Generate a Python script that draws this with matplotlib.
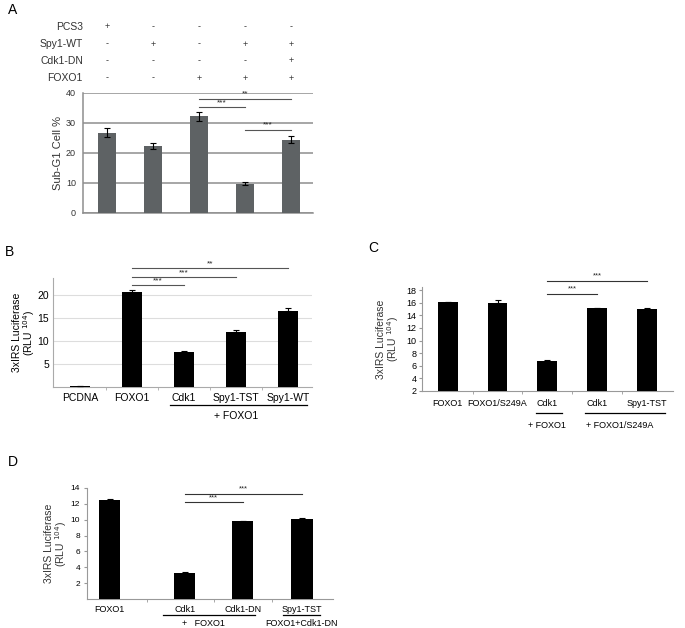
import numpy as np
import matplotlib
matplotlib.use("Agg")
import matplotlib.pyplot as plt
from matplotlib.transforms import blended_transform_factory

plt.rcParams['font.family'] = ['Liberation Sans', 'DejaVu Sans']

# ---- data
a_rows = ["PCS3", "Spy1-WT", "Cdk1-DN", "FOXO1"]
a_table = {
    "PCS3":    ["+", "-", "-", "-", "-"],
    "Spy1-WT": ["-", "+", "-", "+", "+"],
    "Cdk1-DN": ["-", "-", "-", "-", "+"],
    "FOXO1":   ["-", "-", "+", "+", "+"],
}
a_vals = [26.8, 22.5, 32.2, 9.7, 24.5]
a_err = [1.4, 1.0, 1.5, 0.5, 1.3]
a_sig = [(2, 4, 38.0, "**"), (2, 3, 35.3, "***"), (3, 4, 27.8, "***")]

b_labels = ["PCDNA", "FOXO1", "Cdk1", "Spy1-TST", "Spy1-WT"]
b_vals = [0.15, 20.5, 7.5, 12.0, 16.5]
b_err = [0.0, 0.5, 0.2, 0.3, 0.5]
b_sig = [(1, 2, 22.0, "***"), (1, 3, 23.8, "***"), (1, 4, 25.7, "**")]

c_labels = ["FOXO1", "FOXO1/S249A", "Cdk1", "Cdk1", "Spy1-TST"]
c_vals = [16.1, 15.9, 6.8, 15.1, 15.0]
c_err = [0.05, 0.5, 0.1, 0.1, 0.15]
c_sig = [(2, 3, 17.4, "***"), (2, 4, 19.5, "***")]

d_labels = ["FOXO1", "Cdk1", "Cdk1-DN", "Spy1-TST"]
d_vals = [12.5, 3.3, 9.8, 10.1]
d_err = [0.1, 0.1, 0.1, 0.1]
d_sig = [(1, 2, 12.2, "***"), (1, 3, 13.3, "***")]

RLU = "3xIRS Luciferase\n(RLU $^{104}$)"

# ---- layout
W, H = 685, 628
fig = plt.figure(figsize=(W / 100, H / 100), dpi=100)


def add_ax(l, t, r, b):
    return fig.add_axes([l / W, 1 - b / H, (r - l) / W, (b - t) / H])


def fy(px):
    return 1 - px / H


def style(ax, spine_col="#999999", lw=0.8):
    for s in ("top", "right"):
        ax.spines[s].set_visible(False)
    for s in ("left", "bottom"):
        ax.spines[s].set_color(spine_col)
        ax.spines[s].set_linewidth(lw)


def sig(ax, x, items, color="#444444", fs=6, dy=0.3):
    for i, j, h, s in items:
        ax.plot([x[i], x[j]], [h, h], color=color, lw=0.8, clip_on=False)
        ax.text((x[i] + x[j]) / 2, h + dy, s, ha="center", va="bottom",
                fontsize=fs, color="#222222", clip_on=False)


def group(ax, x0, x1, ypx, label, lab_x, lab_ypx, fs=7):
    tr = blended_transform_factory(ax.transData, fig.transFigure)
    ax.plot([x0, x1], [fy(ypx), fy(ypx)], color="black", lw=0.9,
            transform=tr, clip_on=False)
    ax.text(lab_x, fy(lab_ypx), label, ha="center", va="center",
            fontsize=fs, transform=tr)


# ---------------- Panel A
axA = add_ax(83, 93, 313, 213)
xA = np.arange(len(a_vals))
axA.bar(xA, a_vals, width=0.39, color="#5e6264", zorder=3,
        yerr=a_err, capsize=2, error_kw=dict(elinewidth=0.8, capthick=0.8, ecolor="black"))
axA.set_xlim(-0.52, 4.48)
axA.set_ylim(0, 40)
axA.set_yticks([0, 10, 20, 30, 40])
axA.set_xticks([])
axA.yaxis.grid(True, color="#8e8e8e", lw=1.1, zorder=0)
axA.set_axisbelow(True)
style(axA, "#8e8e8e", 1.1)
axA.tick_params(axis="y", length=0, labelsize=6.5, pad=5, labelcolor="#333333")
axA.set_ylabel("Sub-G1 Cell %", fontsize=8, color="#333333")
axA.yaxis.set_label_coords(-0.085, 0.5)
sig(axA, xA, a_sig, color="#555555", fs=6, dy=0.4)
fig.text(8 / W, fy(10), "A", fontsize=10, va="center")

trA = blended_transform_factory(axA.transData, fig.transFigure)
trA_lab = blended_transform_factory(axA.transAxes, fig.transFigure)
for r, name in enumerate(a_rows):
    ypx = 27 + 17 * r
    axA.text(0.0, fy(ypx), name, transform=trA_lab, ha="right", va="center",
             fontsize=7.5, color="#333333")
    for k, sgn in enumerate(a_table[name]):
        axA.text(xA[k], fy(ypx), sgn, transform=trA, ha="center", va="center",
                 fontsize=6.5, color="#333333")

# ---------------- Panel B
axB = add_ax(53, 278, 312, 387)
xB = np.arange(len(b_vals))
axB.bar(xB, b_vals, width=0.4, color="black", zorder=3,
        yerr=[np.zeros(len(b_err)), b_err], capsize=2,
        error_kw=dict(elinewidth=0.8, capthick=0.8, ecolor="black"))
axB.set_xlim(-0.52, 4.46)
axB.set_ylim(0, 23.6)
axB.set_yticks([5, 10, 15, 20])
axB.yaxis.grid(True, color="#dddddd", lw=0.8, zorder=0)
axB.set_axisbelow(True)
style(axB, "#aaaaaa", 0.8)
axB.set_xticks(xB)
axB.set_xticklabels(b_labels, fontsize=7.5)
axB.set_xticks(xB[:-1] + 0.5, minor=True)
axB.tick_params(axis="x", which="major", length=0, pad=4)
axB.tick_params(axis="x", which="minor", length=2, color="#aaaaaa")
axB.tick_params(axis="y", length=0, labelsize=7.5, pad=3)
axB.set_ylabel(RLU, fontsize=7.5, linespacing=0.9)
axB.yaxis.set_label_coords(-0.062, 0.5)
sig(axB, xB, b_sig, color="#555555", fs=6, dy=0.2)
group(axB, 1.73, 4.37, 405, "+ FOXO1", 3.0, 416, fs=7.5)
fig.text(5 / W, fy(252), "B", fontsize=10, va="center")

# ---------------- Panel C
axC = add_ax(422, 287, 673, 391)
xC = np.arange(len(c_vals))
axC.bar(xC, c_vals, width=0.4, color="black", zorder=3,
        yerr=[np.zeros(len(c_err)), c_err], capsize=2,
        error_kw=dict(elinewidth=0.8, capthick=0.8, ecolor="black"))
axC.set_xlim(-0.52, 4.53)
axC.set_ylim(2, 18.5)
axC.set_yticks(np.arange(2, 19, 2))
style(axC, "#999999", 0.8)
axC.set_xticks(xC)
axC.set_xticklabels(c_labels, fontsize=6.5)
axC.set_xticks(xC[:-1] + 0.5, minor=True)
axC.tick_params(axis="x", which="major", length=0, pad=6)
axC.tick_params(axis="x", which="minor", length=2.5, color="#999999")
axC.tick_params(axis="y", length=2, color="#999999", labelsize=6.5, pad=2)
axC.set_ylabel(RLU, fontsize=7.5, linespacing=0.9, color="#333333")
axC.yaxis.set_label_coords(-0.084, 0.5)
sig(axC, xC, c_sig, color="#333333", fs=5.5, dy=0.2)
group(axC, 1.78, 2.30, 413, "+ FOXO1", 2.0, 425, fs=6.5)
group(axC, 2.76, 4.36, 413, "+ FOXO1/S249A", 3.46, 425, fs=6.5)
fig.text(368 / W, fy(248), "C", fontsize=10, va="center")

# ---------------- Panel D
axD = add_ax(87, 488, 333, 599)
xD = np.array([0.0, 1.28, 2.27, 3.28])
axD.bar(xD, d_vals, width=0.36, color="black", zorder=3,
        yerr=[np.zeros(len(d_err)), d_err], capsize=2,
        error_kw=dict(elinewidth=0.8, capthick=0.8, ecolor="black"))
axD.set_xlim(-0.39, 3.81)
axD.set_ylim(0, 14)
axD.set_yticks(np.arange(2, 15, 2))
style(axD, "#999999", 0.8)
axD.set_xticks(xD)
axD.set_xticklabels(d_labels, fontsize=6.5)
axD.set_xticks((xD[:-1] + xD[1:]) / 2, minor=True)
axD.tick_params(axis="x", which="major", length=0, pad=4)
axD.tick_params(axis="x", which="minor", length=2.5, color="#999999")
axD.tick_params(axis="y", length=2, color="#999999", labelsize=6, pad=3)
axD.set_ylabel(RLU, fontsize=7.5, linespacing=0.9, color="#333333")
axD.yaxis.set_label_coords(-0.075, 0.5)
sig(axD, xD, d_sig, color="#333333", fs=5.5, dy=0.15)
group(axD, 0.91, 2.48, 615, "+   FOXO1", 1.59, 623, fs=6.5)
group(axD, 2.96, 3.59, 615, "FOXO1+Cdk1-DN", 3.28, 623, fs=6.5)
fig.text(8 / W, fy(462), "D", fontsize=10, va="center")

fig.savefig("out.png", dpi=100)
